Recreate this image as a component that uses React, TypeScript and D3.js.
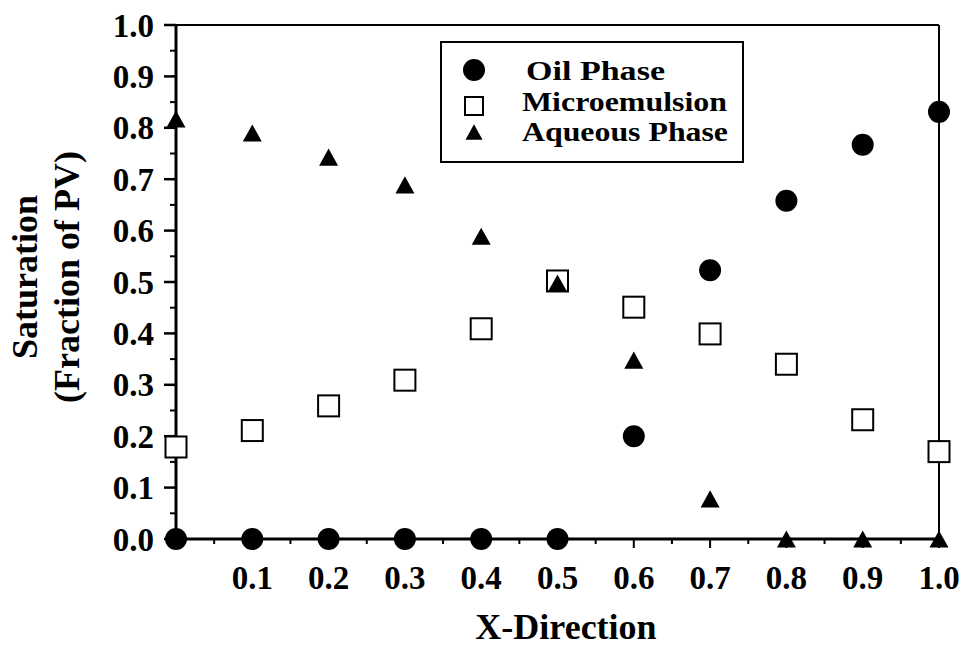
import React from "react";
import * as d3 from "d3";

const positions = [0, 0.1, 0.2, 0.3, 0.4, 0.5, 0.6, 0.7, 0.8, 0.9, 1.0];
const oilPhase = [0, 0, 0, 0, 0, 0, 0.2, 0.523, 0.658, 0.767, 0.831];
const microemulsion = [0.179, 0.211, 0.259, 0.309, 0.409, 0.502, 0.451, 0.399, 0.34, 0.232, 0.17];
const aqueousPhase = [0.817, 0.79, 0.743, 0.689, 0.589, 0.498, 0.348, 0.078, 0, 0, 0];
const xTickLabels = ["0.1", "0.2", "0.3", "0.4", "0.5", "0.6", "0.7", "0.8", "0.9", "1.0"];
const yTickLabels = ["0.0", "0.1", "0.2", "0.3", "0.4", "0.5", "0.6", "0.7", "0.8", "0.9", "1.0"];
const legendLabels = ["Oil Phase", "Microemulsion", "Aqueous Phase"];

const W = 961;
const H = 648;
const left = 176;
const right = 939;
const top = 25;
const bottom = 539;
const font = "'Liberation Serif', 'Times New Roman', Times, serif";

export default function App() {
  const x = d3.scaleLinear().domain([0, 1]).range([left, right]);
  const y = d3.scaleLinear().domain([0, 1]).range([bottom, top]);
  const minor = d3.range(0, 20).map((i) => i * 0.05 + 0.05).filter((v) => Math.round(v * 100) % 10 !== 0);
  const tri = (cx: number, cy: number, s: number) => {
    const h = s * 0.9;
    return `M${cx},${cy - h / 2}L${cx + s / 2},${cy + h / 2}L${cx - s / 2},${cy + h / 2}Z`;
  };
  const sq = 21;

  return (
    <svg width={W} height={H} style={{ position: "absolute", left: 0, top: 0, background: "#fff" }}>
      <rect x={0} y={0} width={W} height={H} fill="#fff" />
      {/* frame */}
      <line x1={left} x2={right} y1={top} y2={top} stroke="#000" strokeWidth={2} />
      <line x1={right} x2={right} y1={top} y2={bottom} stroke="#000" strokeWidth={2} />
      {/* y ticks */}
      {yTickLabels.map((t) => {
        const v = +t;
        return (
          <g key={"yt" + t}>
            <line x1={left - 12} x2={left} y1={y(v)} y2={y(v)} stroke="#000" strokeWidth={2.5} />
            <text x={154} y={y(v)} dy="0.35em" textAnchor="end" fontFamily={font} fontWeight="bold" fontSize={33}>
              {t}
            </text>
          </g>
        );
      })}
      {minor.map((v) => (
        <line key={"ym" + v} x1={left - 6} x2={left} y1={y(v)} y2={y(v)} stroke="#000" strokeWidth={2} />
      ))}
      {/* x ticks */}
      {xTickLabels.map((t) => {
        const v = +t;
        return (
          <g key={"xt" + t}>
            <line x1={x(v)} x2={x(v)} y1={bottom} y2={bottom + 9} stroke="#000" strokeWidth={2} />
            <text x={x(v)} y={589} textAnchor="middle" fontFamily={font} fontWeight="bold" fontSize={33}>
              {t}
            </text>
          </g>
        );
      })}
      {minor.map((v) => (
        <line key={"xm" + v} x1={x(v)} x2={x(v)} y1={bottom} y2={bottom + 5} stroke="#000" strokeWidth={2} />
      ))}
      <line x1={left} x2={left} y1={top - 1} y2={bottom + 1.5} stroke="#000" strokeWidth={3} />
      <line x1={left - 1.5} x2={right + 1} y1={bottom} y2={bottom} stroke="#000" strokeWidth={3} />

      {/* axis titles */}
      <text x={566} y={639} textAnchor="middle" fontFamily={font} fontWeight="bold" fontSize={36}>
        X-Direction
      </text>
      <text transform="translate(37,277) rotate(-90)" textAnchor="middle" fontFamily={font} fontWeight="bold" fontSize={36}>
        Saturation
      </text>
      <text transform="translate(79,277) rotate(-90)" textAnchor="middle" fontFamily={font} fontWeight="bold" fontSize={36}>
        (Fraction of PV)
      </text>

      {/* series */}
      {positions.map((p, i) => (
        <rect
          key={"m" + i}
          x={x(p) - sq / 2}
          y={y(microemulsion[i]) - sq / 2}
          width={sq}
          height={sq}
          fill="#fff"
          stroke="#000"
          strokeWidth={2}
        />
      ))}
      {positions.map((p, i) => (
        <path key={"a" + i} d={tri(x(p), y(aqueousPhase[i]), 19)} fill="#000" />
      ))}
      {positions.map((p, i) => (
        <circle key={"o" + i} cx={x(p)} cy={y(oilPhase[i])} r={11} fill="#000" />
      ))}

      {/* legend */}
      <rect x={441} y={42} width={302} height={120} fill="#fff" stroke="#000" strokeWidth={2} />
      <circle cx={474} cy={70} r={11} fill="#000" />
      <rect x={465} y={97} width={18} height={18} fill="#fff" stroke="#000" strokeWidth={2} />
      <path d={tri(474, 132, 17)} fill="#000" />
      <text x={526} y={80} fontFamily={font} fontWeight="bold" fontSize={28} textLength={139} lengthAdjust="spacingAndGlyphs">
        {legendLabels[0]}
      </text>
      <text x={522} y={111} fontFamily={font} fontWeight="bold" fontSize={28} textLength={205} lengthAdjust="spacingAndGlyphs">
        {legendLabels[1]}
      </text>
      <text x={522} y={141} fontFamily={font} fontWeight="bold" fontSize={28} textLength={206} lengthAdjust="spacingAndGlyphs">
        {legendLabels[2]}
      </text>
    </svg>
  );
}
